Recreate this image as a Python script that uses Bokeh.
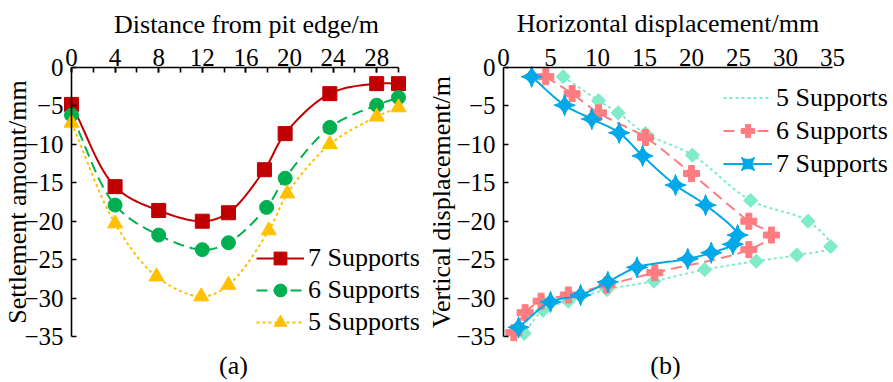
import numpy as np
from bokeh.plotting import figure
from bokeh.layouts import row
from bokeh.models import Range1d, LinearAxis, FixedTicker, Legend, LegendItem, Label
from bokeh.embed import file_html
from bokeh.resources import INLINE

# ---------------- data: (a) ground settlement ----------------
dist_7 = [0, 4, 8, 12, 14.4, 17.7, 19.6, 23.7, 28, 30]
settle_7 = [-4.8, -15.5, -18.6, -20.0, -18.9, -13.3, -8.6, -3.4, -2.1, -2.1]
dist_6 = [0, 4, 8, 12, 14.4, 17.9, 19.6, 23.7, 28, 30]
settle_6 = [-6.2, -17.9, -21.8, -23.7, -22.8, -18.2, -14.4, -7.8, -4.9, -3.9]
dist_5 = [0, 4, 7.8, 11.9, 14.4, 18.1, 19.8, 23.7, 28, 30]
settle_5 = [-7.2, -20.3, -27.2, -29.8, -28.3, -21.2, -16.4, -10.0, -6.4, -5.2]
dist_ticks = [0, 4, 8, 12, 16, 20, 24, 28]
settle_ticks = [0, -5, -10, -15, -20, -25, -30, -35]

# ---------------- data: (b) horizontal displacement ----------------
hor_5 = [6.35, 10.1, 12.2, 15.1, 20.1, 26.3, 32.4, 34.8, 31.2, 26.9, 21.4, 16.0, 11.0, 6.9, 4.2, 2.2]
ver_5 = [-1.2, -4.3, -5.9, -8.6, -11.4, -17.3, -20.0, -23.3, -24.4, -25.2, -26.3, -27.8, -28.9, -30.4, -31.6, -34.6]
hor_6 = [4.5, 7.3, 10.1, 15.1, 20.0, 26.1, 28.5, 26.1, 16.1, 11.0, 6.9, 4.0, 2.3, 1.1]
ver_6 = [-1.2, -3.4, -5.9, -9.1, -13.8, -20.0, -21.8, -23.7, -26.7, -28.3, -29.6, -30.4, -31.9, -34.5]
hor_7 = [3.0, 6.5, 9.4, 12.3, 14.8, 18.3, 21.5, 24.9, 24.4, 22.1, 19.6, 14.2, 11.1, 8.2, 5.0, 1.6]
ver_7 = [-1.2, -4.9, -6.7, -8.5, -11.5, -15.3, -17.9, -21.8, -23.0, -24.1, -24.9, -26.0, -27.9, -29.6, -30.5, -33.8]
hor_ticks = [0, 5, 10, 15, 20, 25, 30, 35]
ver_ticks = [0, -5, -10, -15, -20, -25, -30, -35]

FONT = "Liberation Serif"
TICK_FS = "25px"
TITLE_FS = "26px"

# ---------------- layout (canvas pixels) ----------------
H = 382
W1, W2 = 426, 467
Y0_PX, Y35_PX = 67.0, 336.0           # canvas y of 0 and -35
LX0_PX, LX30_PX = 71.0, 398.0         # left: canvas x of 0 and 30
RX0_PX, RX35_PX = 503.0 - W1, 832.0 - W1   # right: canvas x of 0 and 35

ky = (Y35_PX - Y0_PX) / 35.0
y_top = Y0_PX / ky
y_bot = -35.0 - (H - Y35_PX) / ky

kl = (LX30_PX - LX0_PX) / 30.0
kr = (RX35_PX - RX0_PX) / 35.0


def smooth(xs, ys, kx, kyy, n=16):
    """centripetal Catmull-Rom curve through the points, for drawing the connecting line"""
    P = np.column_stack([np.asarray(xs, float) * kx, np.asarray(ys, float) * kyy])
    P = np.vstack([2 * P[0] - P[1], P, 2 * P[-1] - P[-2]])
    out = []
    for i in range(1, len(P) - 2):
        p0, p1, p2, p3 = P[i - 1], P[i], P[i + 1], P[i + 2]
        t0 = 0.0
        t1 = t0 + max(np.linalg.norm(p1 - p0), 1e-6) ** 0.5
        t2 = t1 + max(np.linalg.norm(p2 - p1), 1e-6) ** 0.5
        t3 = t2 + max(np.linalg.norm(p3 - p2), 1e-6) ** 0.5
        t = np.linspace(t1, t2, n, endpoint=False)[:, None]
        a1 = (t1 - t) / (t1 - t0) * p0 + (t - t0) / (t1 - t0) * p1
        a2 = (t2 - t) / (t2 - t1) * p1 + (t - t1) / (t2 - t1) * p2
        a3 = (t3 - t) / (t3 - t2) * p2 + (t - t2) / (t3 - t2) * p3
        b1 = (t2 - t) / (t2 - t0) * a1 + (t - t0) / (t2 - t0) * a2
        b2 = (t3 - t) / (t3 - t1) * a2 + (t - t1) / (t3 - t1) * a3
        c = (t2 - t) / (t2 - t1) * b1 + (t - t1) / (t2 - t1) * b2
        out.append(c)
    out.append(P[-2][None, :])
    C = np.vstack(out)
    return C[:, 0] / kx, C[:, 1] / kyy


def style_axis(ax, ticks, minor, tick_len):
    ax.ticker = FixedTicker(ticks=ticks, minor_ticks=minor)
    ax.axis_line_color = "black"
    ax.axis_line_width = 1.6
    ax.major_tick_in = tick_len
    ax.major_tick_out = 0
    ax.minor_tick_in = tick_len
    ax.minor_tick_out = 0
    ax.major_tick_line_width = 1.6
    ax.minor_tick_line_width = 1.6
    ax.major_tick_line_color = "black" if tick_len else None
    ax.minor_tick_line_color = "black" if (tick_len and minor) else None
    ax.major_label_text_font = FONT
    ax.major_label_text_font_size = TICK_FS
    ax.major_label_text_color = "black"
    ax.axis_label_text_font = FONT
    ax.axis_label_text_font_size = TITLE_FS
    ax.axis_label_text_font_style = "normal"
    ax.axis_label_text_color = "black"


def base_fig(w, x0, x1):
    p = figure(width=w, height=H, x_range=Range1d(x0, x1), y_range=Range1d(y_bot, y_top),
               output_backend="svg", toolbar_location=None,
               x_axis_location=None, y_axis_location=None, min_border=0)
    p.outline_line_color = None
    p.grid.visible = False
    p.background_fill_color = "white"
    p.border_fill_color = "white"
    return p


def legend(items, loc, row_h, glyph_w):
    return Legend(items=items, location=loc, spacing=0, padding=0, margin=0,
                  label_height=row_h, glyph_height=row_h, glyph_width=glyph_w, label_standoff=4,
                  border_line_color=None, background_fill_alpha=0,
                  label_text_font=FONT, label_text_font_size=TITLE_FS, label_text_color="black")


# ================= (a) =================
p1 = base_fig(W1, -LX0_PX / kl, 30 + (W1 - LX30_PX) / kl)

top1 = LinearAxis(fixed_location=0, bounds=(0, 30))
style_axis(top1, dist_ticks, list(range(0, 31, 2)), 5)
top1.major_label_standoff = 2
p1.add_layout(top1, "above")
p1.add_layout(Label(x=(246 - LX0_PX) / kl, y=(Y0_PX - 24) / ky, text="Distance from pit edge/m",
                    text_align="center", text_baseline="middle", text_font=FONT,
                    text_font_size=TITLE_FS, text_color="black"))

left1 = LinearAxis(fixed_location=0, bounds=(-35, 0), axis_label="Settlement amount/mm")
style_axis(left1, settle_ticks, [], 5)
left1.major_label_standoff = 8
left1.axis_label_standoff = -11
p1.add_layout(left1, "left")

RED, GREEN, GOLD = "#C00000", "#00B050", "#FFC000"
sx, sy = smooth(dist_7, settle_7, kl, ky)
l7 = p1.line(sx, sy, line_color=RED, line_width=2)
m7 = p1.scatter(dist_7, settle_7, marker="square", size=14, fill_color=RED, line_color=RED)
sx, sy = smooth(dist_6, settle_6, kl, ky)
l6 = p1.line(sx, sy, line_color=GREEN, line_width=2, line_dash="11 6")
m6 = p1.scatter(dist_6, settle_6, marker="circle", size=14, fill_color=GREEN, line_color=GREEN)
sx, sy = smooth(dist_5, settle_5, kl, ky)
l5 = p1.line(sx, sy, line_color=GOLD, line_width=2, line_dash="3 3")
m5 = p1.scatter(dist_5, settle_5, marker="triangle", size=15, fill_color=GOLD, line_color=GOLD)

p1.add_layout(legend([LegendItem(label="7 Supports", renderers=[l7, m7]),
                      LegendItem(label="6 Supports", renderers=[l6, m6]),
                      LegendItem(label="5 Supports", renderers=[l5, m5])],
                     (256, 44), 32, 48))

p1.add_layout(Label(x=(233 - LX0_PX) / kl, y=-(365 - Y0_PX) / ky, text="(a)", text_align="center",
                    text_baseline="middle", text_font=FONT, text_font_size=TITLE_FS, text_color="black"))

# ================= (b) =================
p2 = base_fig(W2, -RX0_PX / kr, 35 + (W2 - RX35_PX) / kr)

top2 = LinearAxis(fixed_location=0, bounds=(0, 35), axis_label="Horizontal displacement/mm")
style_axis(top2, hor_ticks, [], 0)
top2.major_label_standoff = 2
top2.axis_label_standoff = 8
p2.add_layout(top2, "above")

left2 = LinearAxis(fixed_location=0, bounds=(-35, 0), axis_label="Vertical displacement/m")
style_axis(left2, ver_ticks, [], 5)
left2.major_label_standoff = 8
left2.axis_label_standoff = -3
p2.add_layout(left2, "left")

AQUA, SALMON, BLUE = "#7FEBC8", "#FF7C80", "#00A8E8"
sx, sy = smooth(hor_5, ver_5, kr, ky)
r5l = p2.line(sx, sy, line_color=AQUA, line_width=2, line_dash="3 3")
r5m = p2.scatter(hor_5, ver_5, marker="square", angle=np.pi / 4, size=10, fill_color=AQUA, line_color=AQUA)
r5k = p2.scatter([], [], marker="diamond", size=16, fill_color=AQUA, line_color=AQUA)  # legend key
sx, sy = smooth(hor_6, ver_6, kr, ky)
r6l = p2.line(sx, sy, line_color=SALMON, line_width=2, line_dash="11 6")
r6m = p2.scatter(hor_6, ver_6, marker="plus", size=16, fill_color=SALMON, line_color=SALMON)
sx, sy = smooth(hor_7, ver_7, kr, ky)
r7l = p2.line(sx, sy, line_color=BLUE, line_width=2)
r7m = p2.scatter(hor_7, ver_7, marker="square_pin", angle=np.pi / 4, size=15, fill_color=BLUE, line_color=BLUE)

p2.add_layout(legend([LegendItem(label="5 Supports", renderers=[r5l, r5k]),
                      LegendItem(label="6 Supports", renderers=[r6l, r6m]),
                      LegendItem(label="7 Supports", renderers=[r7l, r7m])],
                     (RX0_PX + (723 - 503), 202), 33, 49))

p2.add_layout(Label(x=(665 - 503) / kr, y=-(365 - Y0_PX) / ky, text="(b)", text_align="center",
                    text_baseline="middle", text_font=FONT, text_font_size=TITLE_FS, text_color="black"))

layout = row(p1, p2)
open("out.html", "w").write(file_html(layout, INLINE))
